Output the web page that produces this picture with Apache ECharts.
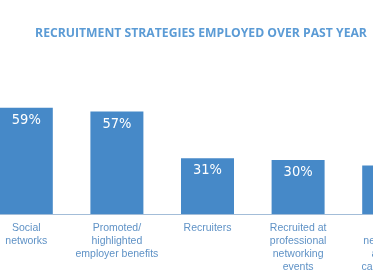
<!DOCTYPE html>
<html><head><meta charset="utf-8">
<script src="https://cdn.jsdelivr.net/npm/echarts@6/dist/echarts.min.js"></script>
<style>html,body{margin:0;padding:0;background:#fff;overflow:hidden;width:373px;height:280px}
#c{position:absolute;left:-19px;top:0;width:453px;height:280px}</style>
</head><body><div id="c"></div>
<script>
const titleText = 'RECRUITMENT STRATEGIES EMPLOYED OVER PAST YEAR';
const categories = [
  'Social\nnetworks',
  'Promoted/\nhighlighted\nemployer benefits',
  'Recruiters',
  'Recruited at\nprofessional\nnetworking\nevents',
  'Online\nnetworking\nand job\ncareer sites'
];
const values = [59, 57, 31, 30, 27];

const chart = echarts.init(document.getElementById('c'), null, {renderer: 'canvas'});
chart.setOption({
  animation: false,
  backgroundColor: '#ffffff',
  title: {
    text: titleText,
    left: 215, textAlign: 'center',
    top: 23,
    textStyle: {fontFamily: 'Open Sans', fontWeight: 'bold', fontSize: 12.2, color: '#5b9bd5'}
  },
  grid: {left: 0, right: 0, top: 34, bottom: 66, containLabel: false},
  xAxis: {
    type: 'category',
    data: categories,
    axisTick: {show: false},
    axisLine: {lineStyle: {color: '#a3bdd8', width: 1}},
    axisLabel: {
      interval: 0, margin: 8,
      fontFamily: 'Liberation Sans', fontSize: 10.5, lineHeight: 13,
      color: '#5f92c6'
    }
  },
  yAxis: {type: 'value', min: 0, max: 100, show: false, splitLine: {show: false}},
  series: [{
    type: 'bar',
    data: values,
    barWidth: 53,
    itemStyle: {color: '#4689c8'},
    label: {
      show: true, position: 'insideTop', distance: 5,
      formatter: '{c}%',
      color: '#ffffff', fontFamily: 'DejaVu Sans Condensed', fontSize: 14.5
    }
  }]
});
</script></body></html>
